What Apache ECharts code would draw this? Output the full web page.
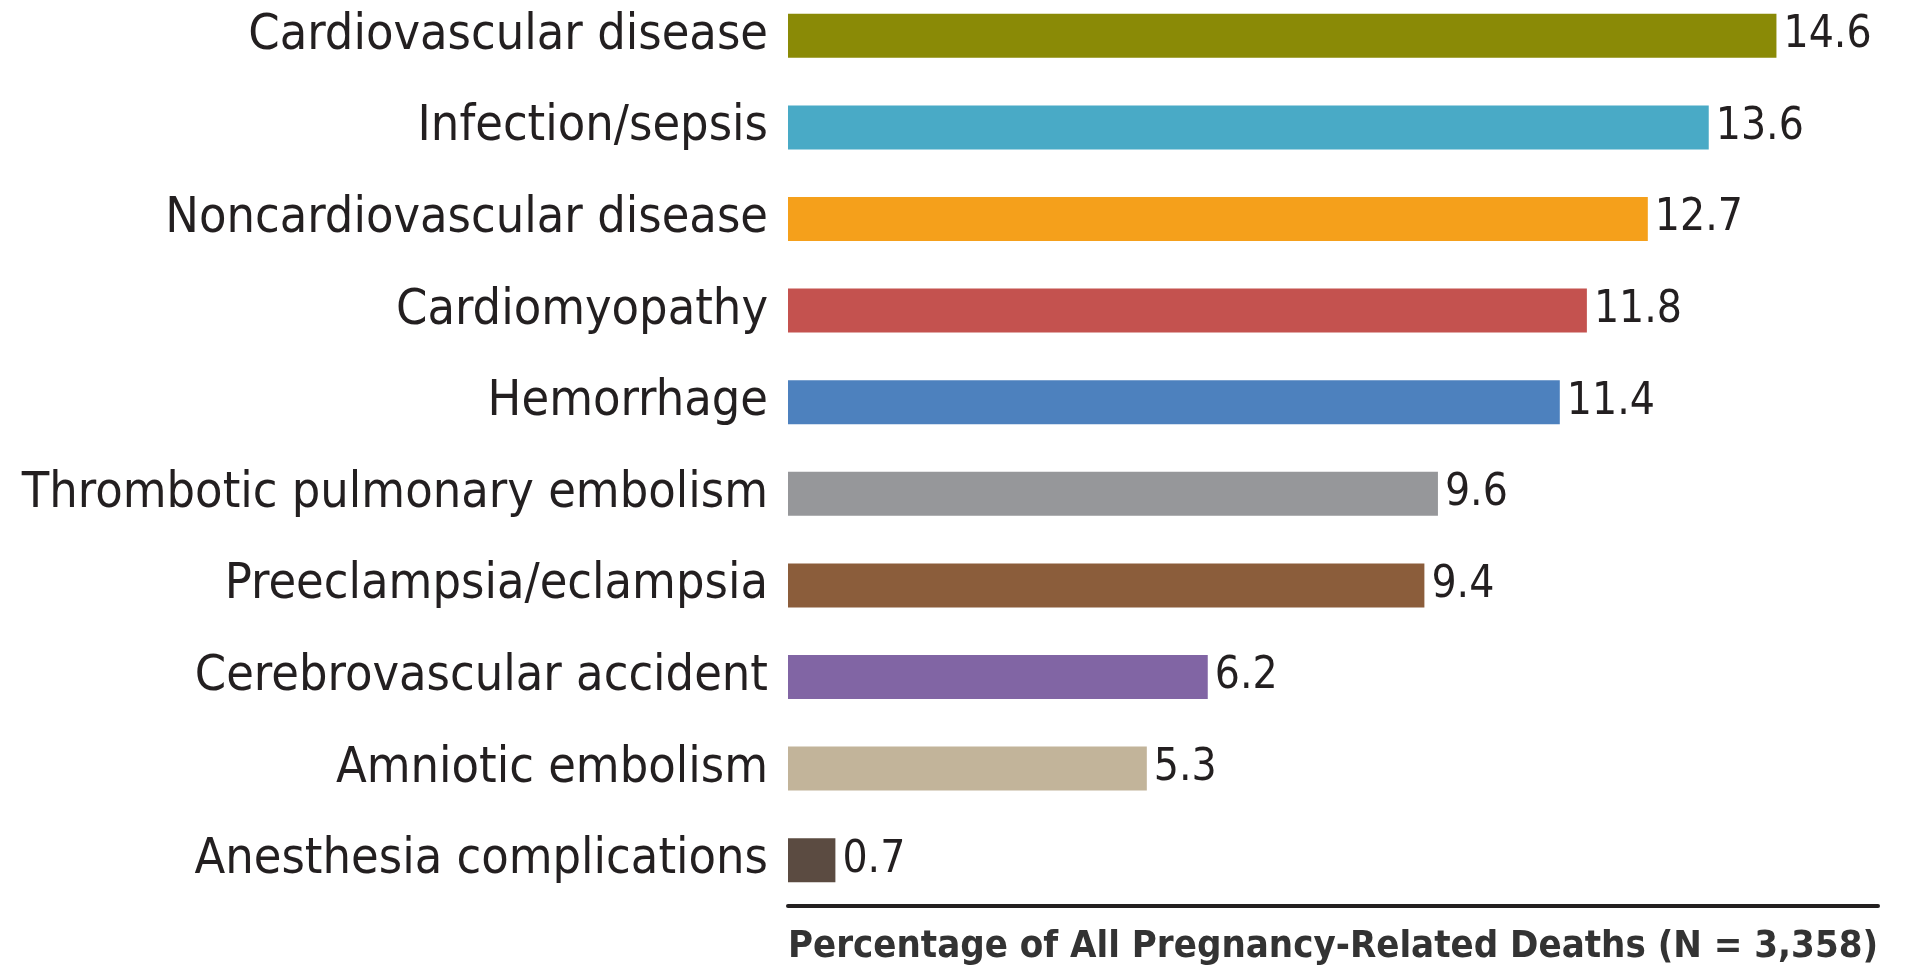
<!DOCTYPE html>
<html>
<head>
<meta charset="utf-8">
<script src="https://cdn.jsdelivr.net/npm/echarts@6/dist/echarts.min.js"></script>
<style>
  html, body { margin: 0; padding: 0; background: #fff; }
  #chart { width: 1906px; height: 971px; }
</style>
</head>
<body>
<div id="chart"></div>
<script>
  const categories = [
    'Cardiovascular disease',
    'Infection/sepsis',
    'Noncardiovascular disease',
    'Cardiomyopathy',
    'Hemorrhage',
    'Thrombotic pulmonary embolism',
    'Preeclampsia/eclampsia',
    'Cerebrovascular accident',
    'Amniotic embolism',
    'Anesthesia complications'
  ]
  const values = [14.6, 13.6, 12.7, 11.8, 11.4, 9.6, 9.4, 6.2, 5.3, 0.7]
  const barColors = ['#8a8a06', '#49aac6', '#f5a01b', '#c4524f', '#4d81be', '#96979a', '#8b5d3b', '#8165a4', '#c2b49a', '#5b4b41']
  const axisTitle = 'Percentage of All Pregnancy-Related Deaths (N = 3,358)'

  const font = '"DejaVu Sans Condensed", sans-serif'
  const chart = echarts.init(document.getElementById('chart'))

  chart.setOption({
    animation: false,
    grid: {
      left: 788,
      right: 28,
      top: -10,
      bottom: 65,
      outerBoundsMode: 'none'
    },
    xAxis: {
      type: 'value',
      min: 0,
      max: 16.1,
      name: axisTitle,
      nameLocation: 'middle',
      nameGap: 22,
      nameTextStyle: {
        fontFamily: font,
        fontWeight: 'bold',
        fontSize: 38,
        color: '#333333'
      },
      axisLine: { show: true, lineStyle: { color: '#231f20', width: 4 } },
      axisTick: { show: false },
      axisLabel: { show: false },
      splitLine: { show: false }
    },
    yAxis: {
      type: 'category',
      inverse: true,
      data: categories,
      axisLine: { show: false },
      axisTick: { show: false },
      axisLabel: {
        margin: 20,
        fontFamily: font,
        fontSize: 50,
        color: '#231f20'
      }
    },
    series: [
      {
        type: 'bar',
        data: values.map((v, i) => ({ value: v, itemStyle: { color: barColors[i] } })),
        barWidth: 44,
        label: {
          show: true,
          position: 'right',
          distance: 7,
          fontFamily: font,
          fontSize: 44,
          color: '#231f20'
        }
      }
    ]
  })
</script>
</body>
</html>
